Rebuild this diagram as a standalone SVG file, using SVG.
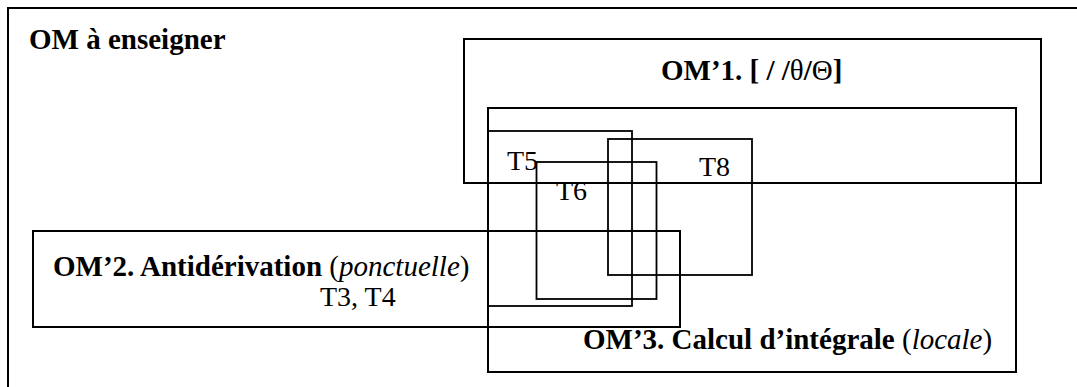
<svg xmlns="http://www.w3.org/2000/svg" width="1077" height="387" viewBox="0 0 1077 387">
<style>
.box{fill:none;stroke:#000;stroke-width:2}
.tb{fill:none;stroke:#000;stroke-width:1.8}
text{font-family:"Liberation Serif","Times New Roman",serif;font-size:28px;fill:#000}
.b{font-weight:bold;font-size:29px}
.i{font-style:italic}
.n{font-weight:normal}
</style>
<rect width="1077" height="387" fill="#fff"/>
<g id="om-enseigner">
<rect class="box" x="8" y="8" width="1080" height="390"/>
<text class="b" x="29" y="49">OM à enseigner</text>
</g>
<g id="om1">
<rect class="box" x="464" y="39" width="577" height="144"/>
<text class="b" x="661" y="80">OM’1. [ / /<tspan class="n">θ</tspan>/<tspan class="n">Θ</tspan>]</text>
</g>
<g id="om3">
<rect class="box" x="488" y="108" width="528" height="264"/>
<text class="b" x="583" y="349">OM’3. Calcul d’intégrale <tspan class="n">(</tspan><tspan class="n i">locale</tspan><tspan class="n">)</tspan></text>
</g>
<g id="t5">
<rect class="tb" x="488" y="131" width="144" height="175"/>
<text x="507" y="170">T5</text>
</g>
<g id="t6">
<rect class="tb" x="536.5" y="162" width="120" height="137"/>
<text x="556" y="200">T6</text>
</g>
<g id="t8">
<rect class="tb" x="608" y="139" width="144" height="136"/>
<text x="699" y="176">T8</text>
</g>
<g id="om2">
<rect class="box" x="33" y="231" width="647" height="96"/>
<text class="b" x="53" y="276">OM’2. Antidérivation <tspan class="n">(</tspan><tspan class="n i">ponctuelle</tspan><tspan class="n">)</tspan></text>
<text x="320" y="306">T3, T4</text>
</g>
<g id="connectors"></g>
</svg>
